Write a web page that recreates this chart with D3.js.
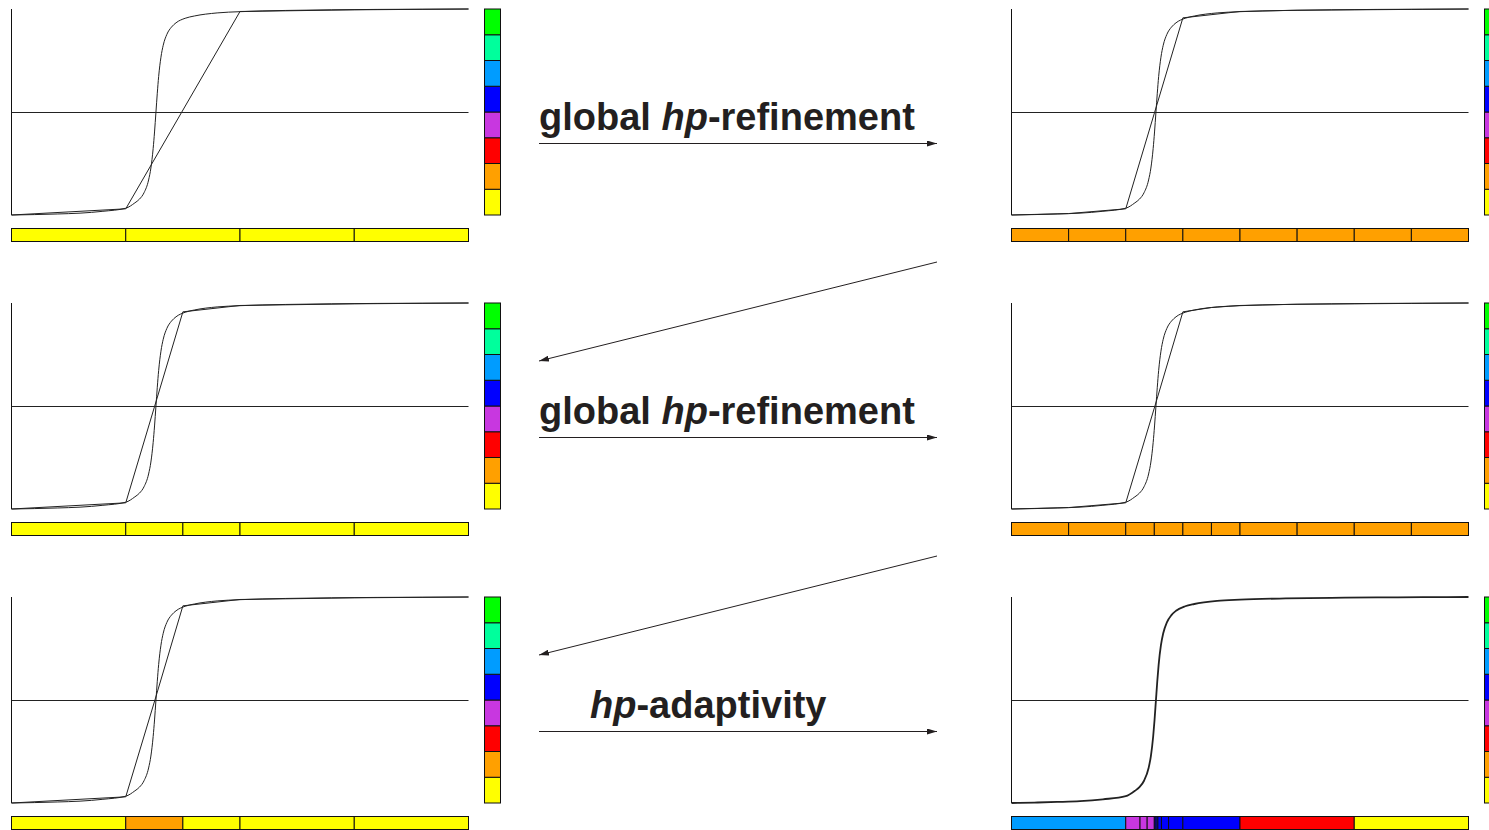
<!DOCTYPE html>
<head>
    <meta charset="utf-8">
    <script src="https://cdn.jsdelivr.net/npm/d3@7"></script>
    <style>
        body { margin: 0; background: white; }
        .label {
            font-family: "Liberation Sans", Arial, sans-serif;
            font-weight: bold;
            font-size: 38px;
            fill: #231f20;
        }
    </style>
</head>

<body>
<script>

    // exact solution (x in [0,1], height as fraction of the panel)
    var exactX = [0, 0.05, 0.1, 0.15, 0.2, 0.25, 0.27, 0.28, 0.29, 0.3, 0.305, 0.31, 0.313, 0.316,
                  0.319, 0.322, 0.327, 0.332, 0.34, 0.35, 0.36, 0.38, 0.4, 0.45, 0.5, 0.6, 0.7, 0.8, 0.9, 1];
    var exactY = [0, 0.002, 0.005, 0.009, 0.018, 0.033, 0.059, 0.077, 0.108, 0.17, 0.228, 0.323, 0.403, 0.497,
                  0.591, 0.672, 0.766, 0.824, 0.877, 0.912, 0.933, 0.955, 0.966, 0.981, 0.987, 0.993, 0.996, 0.998, 0.999, 1];

    // polynomial degree colours, p = 1..8
    var degrees = [1, 2, 3, 4, 5, 6, 7, 8];
    var degreeColors = ["#ffff00", "#ffa000", "#ff0000", "#c837e0", "#0000ff", "#009cff", "#00ff9c", "#00ff00"];

    // meshes (element boundaries) and element degrees
    var meshR1L = [0, 0.25, 0.5, 0.75, 1];
    var degR1L  = [1, 1, 1, 1];
    var meshR1R = [0, 0.125, 0.25, 0.375, 0.5, 0.625, 0.75, 0.875, 1];
    var degR1R  = [2, 2, 2, 2, 2, 2, 2, 2];
    var meshR2L = [0, 0.25, 0.375, 0.5, 0.75, 1];
    var degR2L  = [1, 1, 1, 1, 1];
    var meshR2R = [0, 0.125, 0.25, 0.3125, 0.375, 0.4375, 0.5, 0.625, 0.75, 0.875, 1];
    var degR2R  = [2, 2, 2, 2, 2, 2, 2, 2, 2, 2];
    var meshR3L = [0, 0.25, 0.375, 0.5, 0.75, 1];
    var degR3L  = [1, 2, 1, 1, 1];
    var meshR3R = [0, 0.25, 0.28125, 0.296875, 0.3125, 0.3164, 0.3203, 0.3281, 0.34375, 0.375, 0.5, 0.75, 1];
    var degR3R  = [6, 4, 4, 4, 5, 5, 5, 5, 5, 5, 3, 1];

    // approximate solutions (nodal values)
    var apxR1LX = [0, 0.25, 0.5, 0.75, 1];
    var apxR1LY = [0, 0.03, 0.988, 0.996, 1];
    var apxR1RX = [0, 0.125, 0.25, 0.375, 0.5, 0.625, 0.75, 0.875, 1];
    var apxR1RY = [0, 0.007, 0.03, 0.957, 0.988, 0.994, 0.996, 0.998, 1];
    var apxR2LX = [0, 0.25, 0.375, 0.5, 0.75, 1];
    var apxR2LY = [0, 0.03, 0.957, 0.988, 0.996, 1];
    var apxR2RX = [0, 0.125, 0.25, 0.3125, 0.375, 0.4375, 0.5, 0.625, 0.75, 0.875, 1];
    var apxR2RY = [0, 0.007, 0.03, 0.49, 0.957, 0.978, 0.988, 0.994, 0.996, 0.998, 1];
    var apxR3LX = [0, 0.25, 0.3125, 0.375, 0.5, 0.75, 1];
    var apxR3LY = [0, 0.03, 0.49, 0.957, 0.988, 0.996, 1];

    var labels = ["global", "hp", "-refinement"];

    var svg = d3.select("body").append("svg")
        .attr("width", 1489)
        .attr("height", 830);

    svg.append("defs").append("marker")
        .attr("id", "head")
        .attr("viewBox", "0 0 10 6")
        .attr("refX", 10).attr("refY", 3)
        .attr("markerWidth", 10).attr("markerHeight", 6)
        .attr("markerUnits", "userSpaceOnUse")
        .attr("orient", "auto")
        .append("path")
        .attr("d", "M0,0 L10,3 L0,6 Z")
        .attr("fill", "#231f20");

    var rowTop = [9, 303, 597];
    var plotH = 206;

    function panel(left, top, mesh, deg, ax, ay, thick) {
        var g = svg.append("g");
        var x = d3.scaleLinear().domain([0, 1]).range([left, left + 457]);
        var y = d3.scaleLinear().domain([0, 1]).range([top + plotH, top]);

        // left axis and zero line
        g.append("line")
            .attr("x1", x(0)).attr("x2", x(0))
            .attr("y1", y(1)).attr("y2", y(0))
            .attr("stroke", "#111").attr("stroke-width", 1);
        g.append("line")
            .attr("x1", x(0)).attr("x2", x(1))
            .attr("y1", y(0.5) + 0.5).attr("y2", y(0.5) + 0.5)
            .attr("stroke", "#222").attr("stroke-width", 1);

        var line = d3.line()
            .x(function(d) { return x(d[0]); })
            .y(function(d) { return y(d[1]); });

        g.append("path")
            .datum(d3.zip(exactX, exactY))
            .attr("d", line.curve(d3.curveMonotoneX))
            .attr("fill", "none")
            .attr("stroke", "#222")
            .attr("stroke-width", thick ? 1.8 : 1);

        if (ax) {
            g.append("path")
                .datum(d3.zip(ax, ay))
                .attr("d", line.curve(d3.curveLinear))
                .attr("fill", "none")
                .attr("stroke", "#222")
                .attr("stroke-width", 1);
        }

        // mesh bar
        var els = deg.map(function(p, i) { return { a: mesh[i], b: mesh[i + 1], p: p }; });
        g.selectAll("rect.el").data(els).enter().append("rect")
            .attr("class", "el")
            .attr("x", function(d) { return x(d.a); })
            .attr("y", top + 219.5)
            .attr("width", function(d) { return x(d.b) - x(d.a); })
            .attr("height", 13)
            .attr("fill", function(d) { return degreeColors[d.p - 1]; })
            .attr("stroke", "#111")
            .attr("stroke-width", 1);

        // degree colour bar
        var cb = d3.scaleBand().domain(degrees.slice().reverse()).range([top, top + plotH]);
        g.selectAll("rect.cb").data(degrees).enter().append("rect")
            .attr("class", "cb")
            .attr("x", left + 473)
            .attr("y", function(d) { return cb(d); })
            .attr("width", 16)
            .attr("height", cb.bandwidth())
            .attr("fill", function(d) { return degreeColors[d - 1]; })
            .attr("stroke", "#111")
            .attr("stroke-width", 1);
    }

    panel(11.5, rowTop[0], meshR1L, degR1L, apxR1LX, apxR1LY);
    panel(1011.5, rowTop[0], meshR1R, degR1R, apxR1RX, apxR1RY);
    panel(11.5, rowTop[1], meshR2L, degR2L, apxR2LX, apxR2LY);
    panel(1011.5, rowTop[1], meshR2R, degR2R, apxR2RX, apxR2RY);
    panel(11.5, rowTop[2], meshR3L, degR3L, apxR3LX, apxR3LY);
    panel(1011.5, rowTop[2], meshR3R, degR3R, null, null, true);

    // arrows between panels
    function arrow(x1, y1, x2, y2) {
        svg.append("line")
            .attr("x1", x1).attr("y1", y1)
            .attr("x2", x2).attr("y2", y2)
            .attr("stroke", "#231f20")
            .attr("stroke-width", 1)
            .attr("marker-end", "url(#head)");
    }
    arrow(539, 143.5, 937, 143.5);
    arrow(937, 262, 539, 361);
    arrow(539, 437.5, 937, 437.5);
    arrow(937, 556, 539, 655);
    arrow(539, 731.5, 937, 731.5);

    function refineLabel(yb) {
        var t = svg.append("text").attr("class", "label").attr("x", 539).attr("y", yb);
        t.append("tspan").text(labels[0] + " ");
        t.append("tspan").style("font-style", "italic").text(labels[1]);
        t.append("tspan").text(labels[2]);
    }
    refineLabel(130);
    refineLabel(424);

    var t3 = svg.append("text").attr("class", "label").attr("x", 590).attr("y", 718);
    t3.append("tspan").style("font-style", "italic").text("hp");
    t3.append("tspan").text("-adaptivity");

</script>
</body>
